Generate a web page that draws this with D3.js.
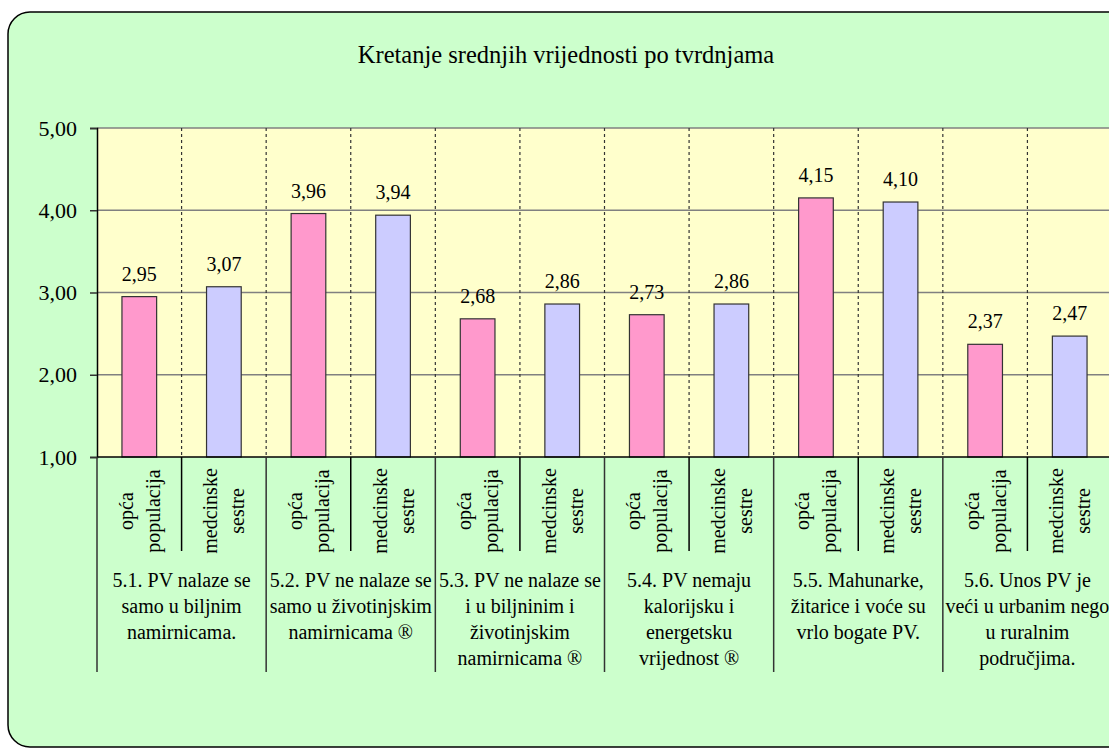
<!DOCTYPE html>
<html lang="en">
<head>
    <meta charset="UTF-8">
    <title>Kretanje srednjih vrijednosti po tvrdnjama</title>
    <style>
        body { margin: 0; background: #fff; overflow: hidden; }
        .grid line { stroke: #808080; stroke-width: 1.5; }
        .sep { stroke: #333; stroke-width: 1.2; stroke-dasharray: 3,3; }
    </style>
</head>
<body>
    <svg id="chart" width="1109" height="749" font-family="'Liberation Serif', 'DejaVu Serif', serif"></svg>

    <script src="https://d3js.org/d3.v7.min.js"></script>
    <script>
        // Data
        const groups = ["5.1", "5.2", "5.3", "5.4", "5.5", "5.6"];
        const groupLabels = [
            ["5.1. PV nalaze se", "samo u biljnim", "namirnicama."],
            ["5.2. PV ne nalaze se", "samo u životinjskim", "namirnicama ®"],
            ["5.3. PV ne nalaze se", "i u biljninim i", "životinjskim", "namirnicama ®"],
            ["5.4. PV nemaju", "kalorijsku i", "energetsku", "vrijednost ®"],
            ["5.5. Mahunarke,", "žitarice i voće su", "vrlo bogate PV."],
            ["5.6. Unos PV je", "veći u urbanim nego", "u ruralnim", "područjima."]
        ];
        const seriesNames = [["opća", "populacija"], ["medcinske", "sestre"]];
        const opcaPopulacija = [2.95, 3.96, 2.68, 2.73, 4.15, 2.37];
        const medicinskeSestre = [3.07, 3.94, 2.86, 2.86, 4.10, 2.47];
        const yTicks = [1, 2, 3, 4, 5];
        const colors = ["#FF99CC", "#CCCCFF"];

        const serif = "'Liberation Serif', 'DejaVu Serif', serif";

        // build the flat list of bars (one per sub category)
        const bars = [];
        groups.forEach((g, i) => {
            bars.push({ key: g + "-0", group: i, s: 0, value: opcaPopulacija[i] });
            bars.push({ key: g + "-1", group: i, s: 1, value: medicinskeSestre[i] });
        });

        const svg = d3.select("#chart");
        const plotLeft = 97, plotRight = 1112, plotTop = 128, plotBottom = 457;

        // outer chart frame (right side runs off the page)
        svg.append("rect")
            .attr("x", 8).attr("y", 12)
            .attr("width", 1140).attr("height", 735)
            .attr("rx", 22).attr("ry", 22)
            .attr("fill", "#CCFFCC")
            .attr("stroke", "#000").attr("stroke-width", 1.5);

        svg.append("text")
            .attr("x", 566).attr("y", 63)
            .attr("text-anchor", "middle")
            .style("font-family", serif)
            .style("font-size", "24.5px")
            .text("Kretanje srednjih vrijednosti po tvrdnjama");

        const x = d3.scaleBand().domain(bars.map(d => d.key)).range([plotLeft, plotRight]);
        const y = d3.scaleLinear().domain([1, 5]).range([plotBottom, plotTop]);
        const fmt = v => d3.format(".2f")(v).replace(".", ",");

        // plot area
        svg.append("rect")
            .attr("x", plotLeft).attr("y", plotTop)
            .attr("width", plotRight - plotLeft).attr("height", plotBottom - plotTop)
            .attr("fill", "#FFFFCC");

        // horizontal gridlines
        svg.append("g").attr("class", "grid")
            .selectAll("line").data(yTicks.filter(t => t > 1)).join("line")
            .attr("x1", plotLeft).attr("x2", plotRight)
            .attr("y1", d => y(d)).attr("y2", d => y(d));

        // dashed separators between sub categories
        svg.append("g").selectAll("line").data(bars.slice(1)).join("line")
            .attr("class", "sep")
            .attr("x1", d => x(d.key)).attr("x2", d => x(d.key))
            .attr("y1", plotTop).attr("y2", plotBottom);

        // bars
        const bw = x.bandwidth() * 0.41;
        svg.append("g").selectAll("rect").data(bars).join("rect")
            .attr("x", d => x(d.key) + (x.bandwidth() - bw) / 2)
            .attr("y", d => y(d.value))
            .attr("width", bw)
            .attr("height", d => y(1) - y(d.value))
            .attr("fill", d => colors[d.s])
            .attr("stroke", "#333").attr("stroke-width", 1.2);

        // value labels
        svg.append("g").selectAll("text").data(bars).join("text")
            .attr("x", d => x(d.key) + x.bandwidth() / 2)
            .attr("y", d => y(d.value) - 16)
            .attr("text-anchor", "middle")
            .style("font-family", serif)
            .style("font-size", "20px")
            .text(d => fmt(d.value));

        // y axis
        const yAxis = svg.append("g")
            .attr("transform", `translate(${plotLeft},0)`)
            .call(d3.axisLeft(y).tickValues(yTicks).tickSize(7).tickPadding(13).tickFormat(fmt));
        yAxis.attr("font-family", null);
        yAxis.select(".domain").attr("stroke", "#000").attr("stroke-width", 1.5);
        yAxis.selectAll(".tick line").attr("stroke", "#333").attr("stroke-width", 1.5);
        yAxis.selectAll(".tick text")
            .attr("fill", "#000")
            .style("font-family", serif)
            .style("font-size", "22px");

        // x axis line
        svg.append("line")
            .attr("x1", plotLeft).attr("x2", plotRight)
            .attr("y1", plotBottom).attr("y2", plotBottom)
            .attr("stroke", "#000").attr("stroke-width", 1.5);

        // short dividers between sub categories, long ones between groups
        svg.append("g").selectAll("line").data(bars).join("line")
            .attr("x1", d => x(d.key)).attr("x2", d => x(d.key))
            .attr("y1", plotBottom)
            .attr("y2", d => d.s === 0 ? 672 : 551)
            .attr("stroke", d => d.s === 0 ? "#333" : "#000")
            .attr("stroke-width", 1.5);

        // rotated sub category labels
        const sub = svg.append("g").selectAll("g").data(bars).join("g")
            .attr("transform", d => `translate(${x(d.key) + x.bandwidth() / 2},511) rotate(-90)`);
        sub.selectAll("text").data(d => seriesNames[d.s]).join("text")
            .attr("x", 0)
            .attr("y", (t, i) => (i - 0.5) * 27 + 7)
            .attr("text-anchor", "middle")
            .style("font-family", serif)
            .style("font-size", "20px")
            .text(t => t);

        // group labels
        const grp = svg.append("g").selectAll("g").data(groups).join("g")
            .attr("transform", g => `translate(${x(g + "-1")},0)`);
        grp.selectAll("text").data((g, i) => groupLabels[i]).join("text")
            .attr("x", 0)
            .attr("y", (t, i) => 587 + i * 26)
            .attr("text-anchor", "middle")
            .style("font-family", serif)
            .style("font-size", "20px")
            .text(t => t);
    </script>
</body>
</html>
